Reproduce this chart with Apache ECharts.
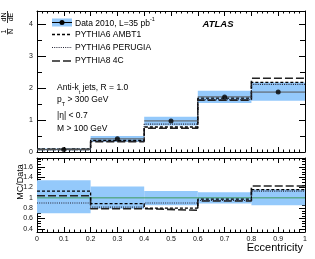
<!DOCTYPE html>
<html><head><meta charset="utf-8">
<script src="https://cdn.jsdelivr.net/npm/echarts@6/dist/echarts.min.js"></script>
<style>html,body{margin:0;padding:0;background:#fff}#c{width:315px;height:259px}</style>
</head><body><div id="c"></div>
<script>
// ---- data ----
const binEdges = [0, 0.2, 0.4, 0.6, 0.8, 1.0];
const binCenters = [0.1, 0.3, 0.5, 0.7, 0.9];
const dataValues = [0.08, 0.41, 0.97, 1.72, 1.87];
const dataBandLow = [0.056, 0.32, 0.83, 1.53, 1.60];
const dataBandHigh = [0.107, 0.50, 1.10, 1.91, 2.17];
const ambt1Values = [0.09, 0.365, 0.78, 1.68, 2.17];
const perugiaValues = [0.072, 0.335, 0.87, 1.63, 2.11];
const p8Values = [0.083, 0.325, 0.74, 1.62, 2.30];
const ratioBandLow = [0.70, 0.79, 0.855, 0.89, 0.855];
const ratioBandHigh = [1.34, 1.22, 1.13, 1.11, 1.16];
const ambt1Ratio = [1.13, 0.89, 0.80, 0.975, 1.16];
const perugiaRatio = [0.90, 0.82, 0.90, 0.95, 1.13];
const p8Ratio = [1.04, 0.79, 0.76, 0.94, 1.23];
const upperYTicks = [0, 1, 2, 3, 4];
const upperYMinor = [0.5, 1.5, 2.5, 3.5];
const lowerYTicks = [0.4, 0.6, 0.8, 1.0, 1.2, 1.4, 1.6];
const lowerYMinor = [0.45, 0.5, 0.55, 0.65, 0.7, 0.75, 0.85, 0.9, 0.95, 1.05, 1.1, 1.15, 1.25, 1.3, 1.35, 1.45, 1.5, 1.55, 1.65, 1.7, 1.75];
const xTickLabels = ['0', '0.1', '0.2', '0.3', '0.4', '0.5', '0.6', '0.7', '0.8', '0.9', '1'];

// ---- helpers ----
const FONT = 'Liberation Sans';
const BAND = '#94c9fb';
function bandData(lo, hi) { return lo.map((v, i) => [binEdges[i], binEdges[i + 1], v, hi[i]]); }
function stepData(vals) {
  const d = vals.map((v, i) => [binEdges[i], v]);
  d.push([binEdges[binEdges.length - 1], vals[vals.length - 1]]);
  return d;
}
function bandRender(params, api) {
  const p0 = api.coord([api.value(0), api.value(3)]);
  const p1 = api.coord([api.value(1), api.value(2)]);
  return { type: 'rect', shape: { x: p0[0], y: p0[1], width: p1[0] - p0[0], height: p1[1] - p0[1] }, style: { fill: BAND } };
}
function xerrRender(params, api) {
  const p0 = api.coord([api.value(0), api.value(2)]);
  const p1 = api.coord([api.value(1), api.value(2)]);
  return { type: 'line', shape: { x1: p0[0], y1: p0[1], x2: p1[0], y2: p1[1] }, style: { stroke: '#555', lineWidth: 1 } };
}
function lineSeries(name, data, xi, yi, type, width, color) {
  return { name, type: 'line', xAxisIndex: xi, yAxisIndex: yi, data, step: 'end', showSymbol: false, symbol: 'none',
    lineStyle: { color, width, type }, silent: true, z: 3 };
}
const STY = {
  ambt1: [[3, 2], 1.3, '#000'],
  perugia: [[1, 1.2], 1.1, '#223'],
  p8: [[8, 3], 1.6, '#222']
};
function xAx(grid, pos, labels) {
  return { type: 'value', gridIndex: grid, position: pos, min: 0, max: 1, interval: 0.1,
    axisLine: { onZero: false, lineStyle: { color: '#000', width: 1 } },
    axisTick: { inside: true, length: 5, lineStyle: { color: '#000' } },
    minorTick: { show: true, splitNumber: 5, length: 2.5, lineStyle: { color: '#000' } },
    splitLine: { show: false },
    axisLabel: labels ? { show: true, fontSize: 7, fontFamily: FONT, color: '#111', margin: 4,
      formatter: (v) => xTickLabels[Math.round(v * 10)] } : { show: false } };
}
function yAx(grid, pos, min, max, ticks, len, labels, line) {
  return { type: 'value', gridIndex: grid, position: pos, min, max, offset: 0,
    axisLine: { show: line, onZero: false, lineStyle: { color: '#000', width: 1 } },
    axisTick: { show: true, inside: true, length: len, customValues: ticks, lineStyle: { color: '#000' } },
    splitLine: { show: false },
    axisLabel: labels ? { show: true, customValues: ticks, fontSize: 7, fontFamily: FONT, color: '#111', margin: 4 } : { show: false } };
}

const chart = echarts.init(document.getElementById('c'), null, { renderer: 'canvas' });
const option = {
  animation: false,
  backgroundColor: '#fff',
  grid: [
    { left: 37, top: 11, width: 268, height: 141, outerBoundsMode: 'none', containLabel: false },
    { left: 37, top: 158, width: 268, height: 74, outerBoundsMode: 'none', containLabel: false }
  ],
  xAxis: [xAx(0, 'bottom', false), xAx(0, 'top', false), xAx(1, 'bottom', true), xAx(1, 'top', false)],
  yAxis: [
    yAx(0, 'left', 0, 4.4, upperYTicks, 9, true, true),
    yAx(0, 'left', 0, 4.4, upperYMinor, 5, false, false),
    yAx(0, 'right', 0, 4.4, upperYTicks, 6, false, true),
    yAx(0, 'right', 0, 4.4, upperYMinor, 5, false, false),
    yAx(1, 'left', 0.34, 1.77, lowerYTicks, 8, true, true),
    yAx(1, 'left', 0.34, 1.77, lowerYMinor, 4, false, false),
    yAx(1, 'right', 0.34, 1.77, lowerYTicks, 6, false, true),
    yAx(1, 'right', 0.34, 1.77, lowerYMinor, 3, false, false)
  ],
  series: [
    { type: 'custom', xAxisIndex: 0, yAxisIndex: 0, renderItem: bandRender, data: bandData(dataBandLow, dataBandHigh),
      encode: { x: [0, 1], y: [2, 3] }, z: 1, silent: true },
    lineSeries('PYTHIA8 4C', stepData(p8Values), 0, 0, ...STY.p8),
    lineSeries('PYTHIA6 AMBT1', stepData(ambt1Values), 0, 0, ...STY.ambt1),
    lineSeries('PYTHIA6 PERUGIA', stepData(perugiaValues), 0, 0, ...STY.perugia),
    { type: 'custom', xAxisIndex: 0, yAxisIndex: 0, renderItem: xerrRender,
      data: dataValues.map((v, i) => [binEdges[i], binEdges[i + 1], v]), encode: { x: [0, 1], y: 2 }, z: 4, silent: true },
    { type: 'scatter', xAxisIndex: 0, yAxisIndex: 0, data: dataValues.map((v, i) => [binCenters[i], v]),
      symbol: 'circle', symbolSize: 5, itemStyle: { color: '#000' }, z: 5, silent: true },

    { type: 'custom', xAxisIndex: 2, yAxisIndex: 4, renderItem: bandRender, data: bandData(ratioBandLow, ratioBandHigh),
      encode: { x: [0, 1], y: [2, 3] }, z: 1, silent: true },
    { type: 'line', xAxisIndex: 2, yAxisIndex: 4, data: [[0, 1], [1, 1]], showSymbol: false, symbol: 'none',
      lineStyle: { color: '#3f9a5c', width: 1 }, z: 2, silent: true },
    lineSeries('r4C', stepData(p8Ratio), 2, 4, ...STY.p8),
    lineSeries('rAMBT1', stepData(ambt1Ratio), 2, 4, ...STY.ambt1),
    lineSeries('rPERUGIA', stepData(perugiaRatio), 2, 4, ...STY.perugia)
  ],
  graphic: [
    // legend
    { type: 'rect', shape: { x: 52, y: 18.5, width: 20, height: 8 }, style: { fill: BAND } },
    { type: 'line', shape: { x1: 52, y1: 22.5, x2: 72, y2: 22.5 }, style: { stroke: '#000', lineWidth: 1 } },
    { type: 'circle', shape: { cx: 62, cy: 22.5, r: 2.5 }, style: { fill: '#000' } },
    { type: 'text', x: 75, y: 22.5, style: { text: '{n|Data 2010, L=35 pb}{s|-1}', fill: '#000', verticalAlign: 'middle',
      rich: { n: { fontSize: 8.5, fontFamily: FONT, lineHeight: 12, verticalAlign: 'bottom' },
              s: { fontSize: 5.5, fontFamily: FONT, lineHeight: 12, verticalAlign: 'top' } } } },
    { type: 'line', shape: { x1: 52, y1: 34.5, x2: 72, y2: 34.5 }, style: { stroke: '#000', lineWidth: 1.3, lineDash: [3, 2] } },
    { type: 'text', x: 75, y: 34.5, style: { text: 'PYTHIA6 AMBT1', font: '8.5px "Liberation Sans"', fill: '#000', verticalAlign: 'middle' } },
    { type: 'line', shape: { x1: 52, y1: 47.5, x2: 72, y2: 47.5 }, style: { stroke: '#223', lineWidth: 1.1, lineDash: [1, 1.2] } },
    { type: 'text', x: 75, y: 47.5, style: { text: 'PYTHIA6 PERUGIA', font: '8.5px "Liberation Sans"', fill: '#000', verticalAlign: 'middle' } },
    { type: 'line', shape: { x1: 52, y1: 61, x2: 72, y2: 61 }, style: { stroke: '#222', lineWidth: 1.6, lineDash: [8, 3] } },
    { type: 'text', x: 75, y: 61, style: { text: 'PYTHIA8 4C', font: '8.5px "Liberation Sans"', fill: '#000', verticalAlign: 'middle' } },
    // ATLAS
    { type: 'text', x: 218, y: 24.5, style: { text: 'ATLAS', font: 'italic bold 9.5px "Liberation Sans"', fill: '#000', align: 'center', verticalAlign: 'middle' } },
    // annotations
    { type: 'text', x: 57, y: 89, style: { text: '{n|Anti-k}{s|t}{n| jets, R = 1.0}', fill: '#000', verticalAlign: 'middle',
      rich: { n: { fontSize: 8.5, fontFamily: FONT, lineHeight: 12, verticalAlign: 'top' },
              s: { fontSize: 5.5, fontFamily: FONT, lineHeight: 12, verticalAlign: 'bottom' } } } },
    { type: 'text', x: 57, y: 101, style: { text: '{n|p}{s|T}{n| > 300 GeV}', fill: '#000', verticalAlign: 'middle',
      rich: { n: { fontSize: 8.5, fontFamily: FONT, lineHeight: 12, verticalAlign: 'top' },
              s: { fontSize: 5.5, fontFamily: FONT, lineHeight: 12, verticalAlign: 'bottom' } } } },
    { type: 'text', x: 57, y: 115.5, style: { text: '|η| < 0.7', font: '8.5px "Liberation Sans"', fill: '#000', verticalAlign: 'middle' } },
    { type: 'text', x: 57, y: 128.5, style: { text: 'M > 100 GeV', font: '8.5px "Liberation Sans"', fill: '#000', verticalAlign: 'middle' } },
    // axis titles
    { type: 'group', x: 7.5, y: 35, rotation: Math.PI / 2, children: [
      { type: 'text', x: 3.5, y: -3.6, style: { text: '1', font: '7px "Liberation Sans"', fill: '#000', align: 'center', verticalAlign: 'middle' } },
      { type: 'text', x: 3.5, y: 3.8, style: { text: 'N', font: '7px "Liberation Sans"', fill: '#000', align: 'center', verticalAlign: 'middle' } },
      { type: 'line', shape: { x1: 0.5, y1: 0, x2: 6.5, y2: 0 }, style: { stroke: '#000', lineWidth: 0.8 } },
      { type: 'text', x: 18, y: -3.6, style: { text: 'dN', font: '7px "Liberation Sans"', fill: '#000', align: 'center', verticalAlign: 'middle' } },
      { type: 'text', x: 18, y: 3.8, style: { text: 'dE', font: '7px "Liberation Sans"', fill: '#000', align: 'center', verticalAlign: 'middle' } },
      { type: 'line', shape: { x1: 12, y1: 0, x2: 24, y2: 0 }, style: { stroke: '#000', lineWidth: 0.8 } }
    ] },
    { type: 'text', x: 20.5, y: 182, rotation: Math.PI / 2, style: { text: 'MC/Data', font: '9px "Liberation Sans"', fill: '#000', align: 'center', verticalAlign: 'middle' } },
    { type: 'text', x: 303, y: 248, style: { text: 'Eccentricity', font: '11px "Liberation Sans"', fill: '#000', align: 'right', verticalAlign: 'middle' } }
  ]
};
chart.setOption(option);
</script>
</body></html>
